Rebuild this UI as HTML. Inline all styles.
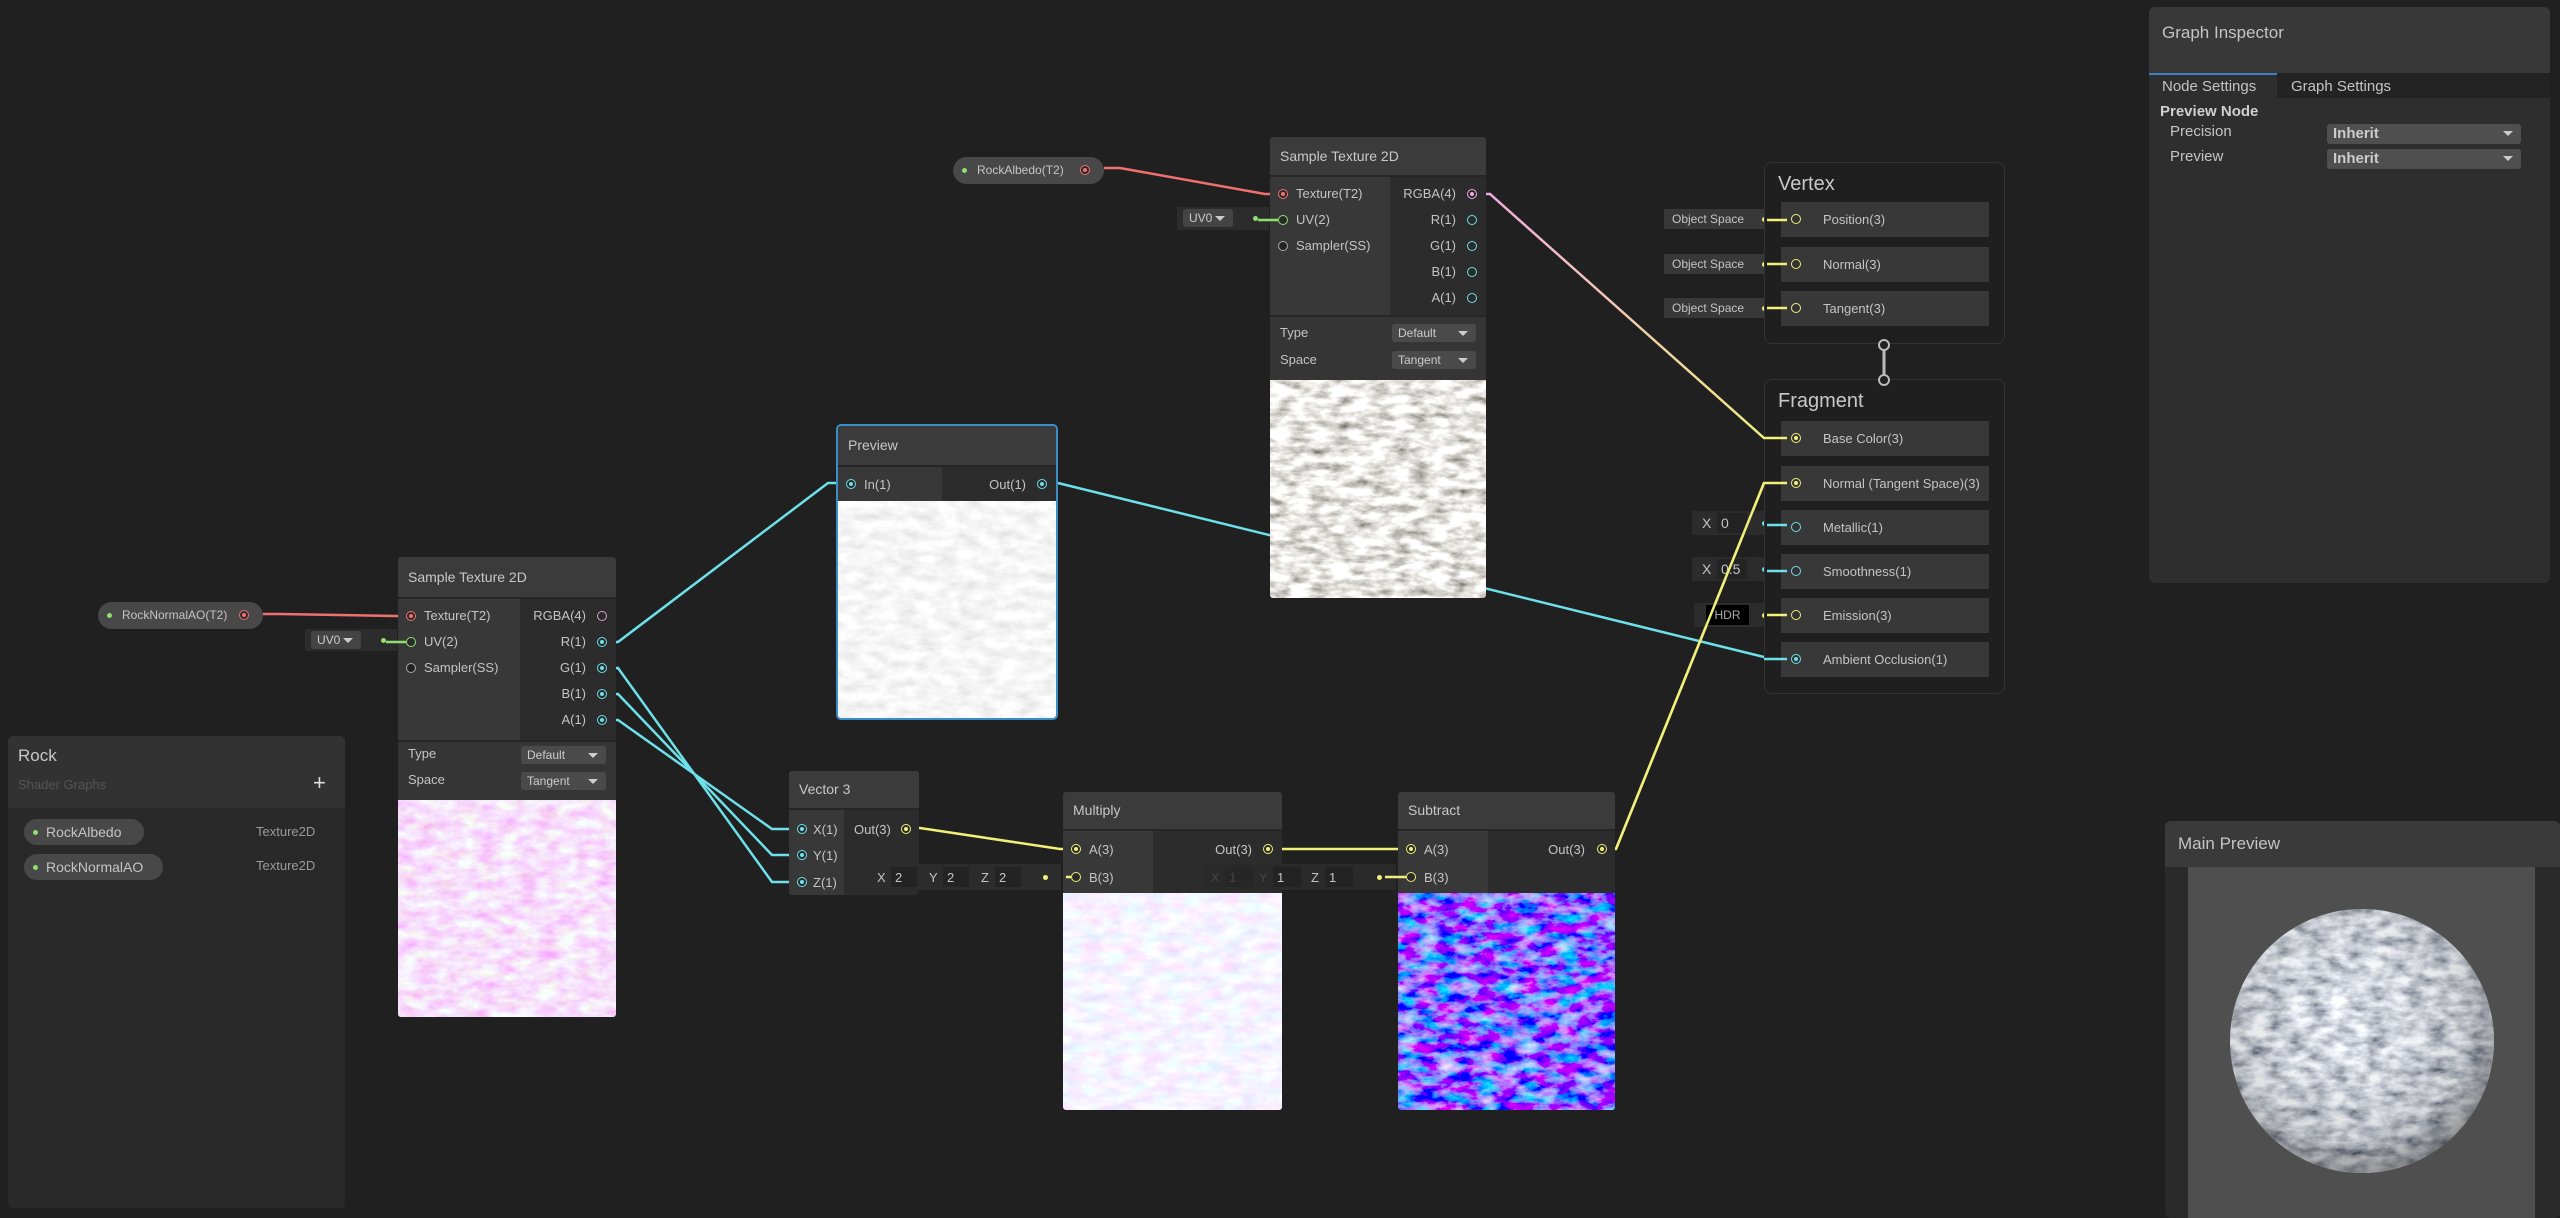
<!DOCTYPE html>
<html><head><meta charset="utf-8">
<style>
*{box-sizing:border-box;margin:0;padding:0}
body{width:2560px;height:1218px;background:#202020;position:relative;overflow:hidden;font-family:"Liberation Sans",sans-serif;color:#c4c4c4}
.a{position:absolute}
.node{position:absolute;background:#2c2c2c;border-radius:3px;overflow:hidden}
.hdr{position:absolute;left:0;right:0;top:0;background:#3b3b3b;font-size:14px;color:#c8c8c8;padding-left:10px;border-bottom:2px solid #262626}
.lbl{position:absolute;font-size:13px;color:#c4c4c4;white-space:nowrap;line-height:16px}
.port{position:absolute;width:10px;height:10px;border-radius:50%;border:1.6px solid #888;background:#2a2a2a}
.port.f::after{content:"";position:absolute;left:1.5px;top:1.5px;width:4px;height:4px;border-radius:50%;background:currentColor}
.dd{position:absolute;background:#4a4a4a;border-radius:3px;font-size:12px;color:#ccc;padding-left:6px;line-height:18px}
.dd::after{content:"";position:absolute;right:8px;top:7px;border-left:5px solid transparent;border-right:5px solid transparent;border-top:5px solid #ccc}
.pill{position:absolute;background:#484848;border-radius:14px;font-size:12px;color:#c4c4c4;line-height:26px}
.row{position:absolute;left:16px;width:208px;height:35px;background:#383838}
.row span{position:absolute;left:42px;top:10px;font-size:13px;color:#c4c4c4}
.os{position:absolute;height:20px;background:#383838;font-size:12px;color:#c4c4c4;line-height:20px;padding-left:8px}
svg.tex{position:absolute;display:block}
</style></head><body>

<svg width="0" height="0" style="position:absolute">
<defs>
<filter id="fg" x="0" y="0" width="100%" height="100%"><feTurbulence type="fractalNoise" baseFrequency="0.05 0.12" numOctaves="4" seed="3"/><feColorMatrix type="matrix" values="1.6 0 0 0 0.02  1.6 0 0 0 0.0  1.6 0 0 0 -0.03  0 0 0 0 1"/></filter>
<filter id="fw" x="0" y="0" width="100%" height="100%"><feTurbulence type="fractalNoise" baseFrequency="0.05 0.1" numOctaves="4" seed="5"/><feColorMatrix type="matrix" values="0.4 0 0 0 0.72  0.4 0 0 0 0.72  0.4 0 0 0 0.72  0 0 0 0 1"/></filter>
<filter id="fp" x="0" y="0" width="100%" height="100%"><feTurbulence type="fractalNoise" baseFrequency="0.05 0.1" numOctaves="4" seed="7"/><feColorMatrix type="matrix" values="0 0 0 0 0.93  0 0.9 0 0 0.3  0 0 0.3 0 0.82  0 0 0 0 1"/></filter>
<filter id="fm" x="0" y="0" width="100%" height="100%"><feTurbulence type="fractalNoise" baseFrequency="0.05 0.1" numOctaves="4" seed="9"/><feColorMatrix type="matrix" values="0.4 0 0 0 0.72  0 0.5 0 0 0.65  0 0 0 0 1  0 0 0 0 1"/></filter>
<filter id="fb" x="0" y="0" width="100%" height="100%"><feTurbulence type="fractalNoise" baseFrequency="0.05 0.1" numOctaves="4" seed="11"/><feColorMatrix type="matrix" values="1.6 0 0 0 -0.55  0 1.8 0 0 -0.75  0 0 0 0 1  0 0 0 0 1"/></filter>
<filter id="fs" x="0" y="0" width="100%" height="100%"><feTurbulence type="fractalNoise" baseFrequency="0.05 0.1" numOctaves="4" seed="13"/><feColorMatrix type="matrix" values="1.4 0 0 0 -0.05  1.4 0 0 0 -0.02  1.4 0 0 0 0.04  0 0 0 0 1"/></filter>
<radialGradient id="sg" cx="0.45" cy="0.4" r="0.6"><stop offset="0" stop-color="#fff" stop-opacity="0"/><stop offset="0.8" stop-color="#000" stop-opacity="0.15"/><stop offset="1" stop-color="#000" stop-opacity="0.4"/></radialGradient>
</defs></svg>

<!-- connectors -->
<svg class="a" style="left:0;top:0;z-index:1" width="2560" height="1218">
<defs><linearGradient id="pg" x1="1473" y1="194" x2="1791" y2="438" gradientUnits="userSpaceOnUse"><stop offset="0" stop-color="#f0a8e0"/><stop offset="1" stop-color="#f0f07a"/></linearGradient></defs>
<g fill="none" stroke-width="2.5">
<polyline stroke="#f07070" points="263,614 280,614 395,616 411,616"/>
<polyline stroke="#f07070" points="1104,168 1120,168 1265,194 1283,194"/>
<polyline stroke="#6ee0ea" points="602,642 618,642 828,483 849,483"/>
<polyline stroke="#6ee0ea" points="1042,483 1058,483 1772,659 1791,659"/>
<polyline stroke="#6ee0ea" points="602,668 618,668 772,882 801,882"/>
<polyline stroke="#6ee0ea" points="602,694 618,694 772,855 801,855"/>
<polyline stroke="#6ee0ea" points="602,720 618,720 772,829 801,829"/>
<polyline stroke="#f0f07a" points="906,828 920,828 1060,849 1076,849"/>
<polyline stroke="#f0f07a" points="1269,849 1411,849"/>
<polyline stroke="#f0f07a" points="1602,849 1616,849 1764,483 1791,483"/>
<polyline stroke="url(#pg)" points="1473,194 1490,194 1764,438 1791,438"/>
</g>
</svg>

<div style="position:relative;z-index:2">

<!-- Graph Inspector -->
<div class="a" style="left:2149px;top:7px;width:401px;height:576px;background:#2e2e2e;border-radius:6px;overflow:hidden">
 <div class="a" style="left:0;top:0;width:401px;height:66px;background:#383838"></div>
 <div class="a" style="left:13px;top:16px;font-size:17px;color:#c4c4c4">Graph Inspector</div>
 <div class="a" style="left:0;top:66px;width:401px;height:25px;background:#232323"></div>
 <div class="a" style="left:0;top:66px;width:128px;height:25px;background:#2e2e2e;border-top:2px solid #3f7fc6"></div>
 <div class="a" style="left:13px;top:71px;font-size:15px;color:#c4c4c4">Node Settings</div>
 <div class="a" style="left:142px;top:71px;font-size:15px;color:#c4c4c4">Graph Settings</div>
 <div class="a" style="left:11px;top:96px;font-size:15px;font-weight:bold;color:#d0d0d0">Preview Node</div>
 <div class="a" style="left:21px;top:116px;font-size:15px;color:#c4c4c4">Precision</div>
 <div class="a" style="left:21px;top:141px;font-size:15px;color:#c4c4c4">Preview</div>
 <div class="dd" style="left:178px;top:117px;width:194px;height:20px;font-size:15px;font-weight:bold;line-height:20px;background:#4f4f4f">Inherit</div>
 <div class="dd" style="left:178px;top:142px;width:194px;height:20px;font-size:15px;font-weight:bold;line-height:20px;background:#4f4f4f">Inherit</div>
</div>

<!-- Main Preview -->
<div class="a" style="left:2165px;top:821px;width:395px;height:397px;background:#2a2a2a;border-radius:6px;overflow:hidden">
 <div class="a" style="left:0;top:0;width:395px;height:46px;background:#3a3a3a"></div>
 <div class="a" style="left:13px;top:13px;font-size:17px;color:#c4c4c4">Main Preview</div>
 <div class="a" style="left:23px;top:46px;width:347px;height:351px;background:#4f4f4f"></div>
 <svg class="a" style="left:23px;top:46px" width="347" height="351">
  <clipPath id="cc"><circle cx="174" cy="174" r="132"/></clipPath>
  <g clip-path="url(#cc)"><rect width="347" height="351" filter="url(#fs)"/><circle cx="174" cy="174" r="132" fill="url(#sg)"/></g>
 </svg>
</div>

<!-- Blackboard -->
<div class="a" style="left:8px;top:736px;width:337px;height:472px;background:#292929;border-radius:5px;overflow:hidden">
 <div class="a" style="left:0;top:0;width:337px;height:72px;background:#323232"></div>
 <div class="a" style="left:10px;top:10px;font-size:17px;color:#c8c8c8">Rock</div>
 <div class="a" style="left:10px;top:41px;font-size:13px;color:#555">Shader Graphs</div>
 <div class="a" style="left:305px;top:34px;font-size:22px;color:#ddd">+</div>
 <div class="pill" style="left:16px;top:83px;width:120px;height:26px;font-size:14px;padding-left:22px"><span class="a" style="left:9px;top:11px;width:5px;height:5px;border-radius:50%;background:#8ee070"></span>RockAlbedo</div>
 <div class="pill" style="left:16px;top:118px;width:139px;height:26px;font-size:14px;padding-left:22px"><span class="a" style="left:9px;top:11px;width:5px;height:5px;border-radius:50%;background:#8ee070"></span>RockNormalAO</div>
 <div class="a" style="left:248px;top:88px;font-size:13px;color:#9a9a9a">Texture2D</div>
 <div class="a" style="left:248px;top:122px;font-size:13px;color:#9a9a9a">Texture2D</div>
</div>

<!-- property pills -->
<div class="pill" style="left:98px;top:602px;width:165px;height:27px;padding-left:24px">RockNormalAO(T2)<span class="a" style="left:9px;top:11px;width:5px;height:5px;border-radius:50%;background:#8ee070"></span><span class="port f" style="left:141px;top:8px;color:#f07070;border-color:#f07070"></span></div>
<div class="pill" style="left:953px;top:157px;width:151px;height:27px;padding-left:24px">RockAlbedo(T2)<span class="a" style="left:9px;top:11px;width:5px;height:5px;border-radius:50%;background:#8ee070"></span><span class="port f" style="left:127px;top:8px;color:#f07070;border-color:#f07070"></span></div>

<!-- UV0 boxes -->
<div class="a" style="left:305px;top:629px;width:92px;height:22px;background:#2c2c2c"><div class="dd" style="left:6px;top:2px;width:50px;height:18px;background:#444">UV0</div><span class="a" style="left:76px;top:9px;width:5px;height:5px;border-radius:50%;background:#8ee070"></span></div>
<div class="a" style="left:1177px;top:207px;width:92px;height:23px;background:#2c2c2c"><div class="dd" style="left:6px;top:2px;width:50px;height:18px;background:#444">UV0</div><span class="a" style="left:76px;top:9px;width:5px;height:5px;border-radius:50%;background:#8ee070"></span></div>

<!-- Sample Texture 2D (left) -->
<div class="node" style="left:398px;top:557px;width:218px;height:460px">
 <div class="hdr" style="height:42px;line-height:40px">Sample Texture 2D</div>
 <div class="a" style="left:0;top:42px;width:122px;height:141px;background:#383838"></div>
 <div class="a" style="left:122px;top:42px;width:96px;height:141px;background:#2c2c2c"></div>
 <span class="port f" style="left:8px;top:54px;color:#f07070;border-color:#f07070"></span><div class="lbl" style="left:26px;top:51px">Texture(T2)</div>
 <span class="port" style="left:8px;top:80px;border-color:#8ee070"></span><div class="lbl" style="left:26px;top:77px">UV(2)</div>
 <span class="port" style="left:8px;top:106px;border-color:#aaa;background:#222"></span><div class="lbl" style="left:26px;top:103px">Sampler(SS)</div>
 <div class="lbl" style="right:30px;top:51px">RGBA(4)</div><span class="port" style="left:199px;top:54px;border-color:#d9a0d0"></span>
 <div class="lbl" style="right:30px;top:77px">R(1)</div><span class="port f" style="left:199px;top:80px;color:#6ee0ea;border-color:#6ee0ea"></span>
 <div class="lbl" style="right:30px;top:103px">G(1)</div><span class="port f" style="left:199px;top:106px;color:#6ee0ea;border-color:#6ee0ea"></span>
 <div class="lbl" style="right:30px;top:129px">B(1)</div><span class="port f" style="left:199px;top:132px;color:#6ee0ea;border-color:#6ee0ea"></span>
 <div class="lbl" style="right:30px;top:155px">A(1)</div><span class="port f" style="left:199px;top:158px;color:#6ee0ea;border-color:#6ee0ea"></span>
 <div class="a" style="left:0;top:183px;width:218px;height:60px;background:#353535;border-top:2px solid #262626"></div>
 <div class="lbl" style="left:10px;top:189px">Type</div><div class="dd" style="left:123px;top:189px;width:85px;height:18px">Default</div>
 <div class="lbl" style="left:10px;top:215px">Space</div><div class="dd" style="left:123px;top:215px;width:85px;height:18px">Tangent</div>
 <svg class="tex" style="left:0;top:243px" width="218" height="217"><rect width="218" height="217" filter="url(#fp)"/></svg>
</div>

<!-- Sample Texture 2D (top) -->
<div class="node" style="left:1270px;top:137px;width:216px;height:461px">
 <div class="hdr" style="height:40px;line-height:38px">Sample Texture 2D</div>
 <div class="a" style="left:0;top:40px;width:120px;height:138px;background:#383838"></div>
 <div class="a" style="left:120px;top:40px;width:96px;height:138px;background:#2c2c2c"></div>
 <span class="port f" style="left:8px;top:52px;color:#f07070;border-color:#f07070"></span><div class="lbl" style="left:26px;top:49px">Texture(T2)</div>
 <span class="port" style="left:8px;top:78px;border-color:#8ee070"></span><div class="lbl" style="left:26px;top:75px">UV(2)</div>
 <span class="port" style="left:8px;top:104px;border-color:#aaa;background:#222"></span><div class="lbl" style="left:26px;top:101px">Sampler(SS)</div>
 <div class="lbl" style="right:30px;top:49px">RGBA(4)</div><span class="port f" style="left:197px;top:52px;color:#f0a8e0;border-color:#f0a8e0"></span>
 <div class="lbl" style="right:30px;top:75px">R(1)</div><span class="port" style="left:197px;top:78px;border-color:#6ee0ea"></span>
 <div class="lbl" style="right:30px;top:101px">G(1)</div><span class="port" style="left:197px;top:104px;border-color:#6ee0ea"></span>
 <div class="lbl" style="right:30px;top:127px">B(1)</div><span class="port" style="left:197px;top:130px;border-color:#6ee0ea"></span>
 <div class="lbl" style="right:30px;top:153px">A(1)</div><span class="port" style="left:197px;top:156px;border-color:#6ee0ea"></span>
 <div class="a" style="left:0;top:178px;width:216px;height:65px;background:#353535;border-top:2px solid #262626"></div>
 <div class="lbl" style="left:10px;top:188px">Type</div><div class="dd" style="left:122px;top:187px;width:84px;height:18px">Default</div>
 <div class="lbl" style="left:10px;top:215px">Space</div><div class="dd" style="left:122px;top:214px;width:84px;height:18px">Tangent</div>
 <svg class="tex" style="left:0;top:243px" width="216" height="218"><rect width="216" height="218" filter="url(#fg)"/></svg>
</div>

<!-- Preview node -->
<div class="node" style="left:836px;top:424px;width:222px;height:296px;border:2px solid #3a8ec8;border-radius:5px">
 <div class="hdr" style="height:41px;line-height:39px">Preview</div>
 <div class="a" style="left:0;top:41px;width:104px;height:34px;background:#383838"></div>
 <span class="port f" style="left:8px;top:53px;color:#6ee0ea;border-color:#6ee0ea"></span><div class="lbl" style="left:26px;top:51px">In(1)</div>
 <div class="lbl" style="right:30px;top:51px">Out(1)</div><span class="port f" style="left:199px;top:53px;color:#6ee0ea;border-color:#6ee0ea"></span>
 <svg class="tex" style="left:0;top:75px" width="218" height="217"><rect width="218" height="217" filter="url(#fw)"/></svg>
</div>

<!-- Vector 3 -->
<div class="node" style="left:789px;top:771px;width:130px;height:124px">
 <div class="hdr" style="height:39px;line-height:37px">Vector 3</div>
 <div class="a" style="left:0;top:39px;width:55px;height:85px;background:#383838"></div>
 <span class="port f" style="left:8px;top:53px;color:#6ee0ea;border-color:#6ee0ea"></span><div class="lbl" style="left:24px;top:51px">X(1)</div>
 <span class="port f" style="left:8px;top:79px;color:#6ee0ea;border-color:#6ee0ea"></span><div class="lbl" style="left:24px;top:77px">Y(1)</div>
 <span class="port f" style="left:8px;top:106px;color:#6ee0ea;border-color:#6ee0ea"></span><div class="lbl" style="left:24px;top:104px">Z(1)</div>
 <div class="lbl" style="left:65px;top:51px">Out(3)</div><span class="port f" style="left:112px;top:53px;color:#f0f07a;border-color:#f0f07a"></span>
</div>

<!-- XYZ 2 field -->
<div class="a" style="left:869px;top:864px;width:192px;height:26px;background:#2c2c2c;font-size:13px;color:#c4c4c4">
 <span class="a" style="left:8px;top:6px">X</span><span class="a" style="left:22px;top:3px;width:26px;height:20px;background:#232323;padding:3px 4px">2</span>
 <span class="a" style="left:60px;top:6px">Y</span><span class="a" style="left:74px;top:3px;width:26px;height:20px;background:#232323;padding:3px 4px">2</span>
 <span class="a" style="left:112px;top:6px">Z</span><span class="a" style="left:126px;top:3px;width:26px;height:20px;background:#232323;padding:3px 4px">2</span>
 <span class="a" style="left:174px;top:11px;width:5px;height:5px;border-radius:50%;background:#f0f07a"></span>
</div>

<!-- Multiply -->
<div class="node" style="left:1063px;top:792px;width:219px;height:318px">
 <div class="hdr" style="height:39px;line-height:37px">Multiply</div>
 <div class="a" style="left:0;top:39px;width:90px;height:62px;background:#383838"></div>
 <span class="port f" style="left:8px;top:52px;color:#f0f07a;border-color:#f0f07a"></span><div class="lbl" style="left:26px;top:50px">A(3)</div>
 <span class="port" style="left:8px;top:80px;border-color:#f0f07a"></span><div class="lbl" style="left:26px;top:78px">B(3)</div>
 <div class="lbl" style="right:30px;top:50px">Out(3)</div><span class="port f" style="left:200px;top:52px;color:#f0f07a;border-color:#f0f07a"></span>
 <svg class="tex" style="left:0;top:101px" width="219" height="217"><rect width="219" height="217" filter="url(#fm)"/></svg>
</div>

<!-- XYZ 1 field -->
<div class="a" style="left:1203px;top:864px;width:193px;height:26px;background:#2a2a2a;font-size:13px;color:#c4c4c4">
 <span class="a" style="left:8px;top:6px;color:#444">X</span><span class="a" style="left:22px;top:3px;width:28px;height:20px;background:#262626;padding:3px 4px;color:#444">1</span>
 <span class="a" style="left:56px;top:6px;color:#444">Y</span><span class="a" style="left:70px;top:3px;width:28px;height:20px;background:#232323;padding:3px 4px">1</span>
 <span class="a" style="left:108px;top:6px">Z</span><span class="a" style="left:122px;top:3px;width:28px;height:20px;background:#232323;padding:3px 4px">1</span>
 <span class="a" style="left:174px;top:11px;width:5px;height:5px;border-radius:50%;background:#f0f07a"></span>
</div>

<!-- Subtract -->
<div class="node" style="left:1398px;top:792px;width:217px;height:318px">
 <div class="hdr" style="height:39px;line-height:37px">Subtract</div>
 <div class="a" style="left:0;top:39px;width:90px;height:62px;background:#383838"></div>
 <span class="port f" style="left:8px;top:52px;color:#f0f07a;border-color:#f0f07a"></span><div class="lbl" style="left:26px;top:50px">A(3)</div>
 <span class="port" style="left:8px;top:80px;border-color:#f0f07a"></span><div class="lbl" style="left:26px;top:78px">B(3)</div>
 <div class="lbl" style="right:30px;top:50px">Out(3)</div><span class="port f" style="left:199px;top:52px;color:#f0f07a;border-color:#f0f07a"></span>
 <svg class="tex" style="left:0;top:101px" width="217" height="217"><rect width="217" height="217" filter="url(#fb)"/></svg>
</div>

<!-- Object Space fields -->
<div class="os" style="left:1664px;top:209px;width:111px">Object Space<span class="a" style="left:98px;top:8px;width:5px;height:5px;border-radius:50%;background:#f0f07a"></span></div>
<div class="os" style="left:1664px;top:254px;width:111px">Object Space<span class="a" style="left:98px;top:8px;width:5px;height:5px;border-radius:50%;background:#f0f07a"></span></div>
<div class="os" style="left:1664px;top:298px;width:111px">Object Space<span class="a" style="left:98px;top:8px;width:5px;height:5px;border-radius:50%;background:#f0f07a"></span></div>

<!-- Vertex -->
<div class="a" style="left:1764px;top:162px;width:241px;height:182px;border:1px solid #333;border-radius:8px;background:#1f1f1f">
 <div class="a" style="left:13px;top:10px;font-size:20px;color:#c8c8c8">Vertex</div>
 <div class="row" style="top:39px"><span class="port" style="left:10px;top:12px;border-color:#f0f07a;background:#333"></span><span>Position(3)</span></div>
 <div class="row" style="top:84px"><span class="port" style="left:10px;top:12px;border-color:#f0f07a;background:#333"></span><span>Normal(3)</span></div>
 <div class="row" style="top:128px"><span class="port" style="left:10px;top:12px;border-color:#f0f07a;background:#333"></span><span>Tangent(3)</span></div>
</div>

<!-- Fragment fields -->
<div class="a" style="left:1692px;top:511px;width:83px;height:24px;background:#2c2c2c;font-size:14px;color:#c4c4c4"><span class="a" style="left:10px;top:4px">X</span><span class="a" style="left:25px;top:2px;width:30px;height:20px;background:#232323;padding:2px 4px">0</span><span class="a" style="left:70px;top:10px;width:5px;height:5px;border-radius:50%;background:#6ee0ea"></span></div>
<div class="a" style="left:1692px;top:557px;width:83px;height:24px;background:#2c2c2c;font-size:14px;color:#c4c4c4"><span class="a" style="left:10px;top:4px">X</span><span class="a" style="left:25px;top:2px;width:30px;height:20px;background:#232323;padding:2px 4px">0.5</span><span class="a" style="left:70px;top:10px;width:5px;height:5px;border-radius:50%;background:#6ee0ea"></span></div>
<div class="a" style="left:1694px;top:603px;width:81px;height:24px;background:#2c2c2c;font-size:12px;color:#aaa"><span class="a" style="left:12px;top:2px;width:43px;height:20px;background:#000;text-align:center;line-height:20px">HDR</span><span class="a" style="left:68px;top:10px;width:5px;height:5px;border-radius:50%;background:#f0f07a"></span></div>

<!-- Fragment -->
<div class="a" style="left:1764px;top:379px;width:241px;height:315px;border:1px solid #333;border-radius:8px;background:#1f1f1f">
 <div class="a" style="left:13px;top:10px;font-size:20px;color:#c8c8c8">Fragment</div>
 <div class="row" style="top:41px"><span class="port f" style="left:10px;top:12px;color:#f0f07a;border-color:#f0f07a;background:#333"></span><span>Base Color(3)</span></div>
 <div class="row" style="top:86px"><span class="port f" style="left:10px;top:12px;color:#f0f07a;border-color:#f0f07a;background:#333"></span><span>Normal (Tangent Space)(3)</span></div>
 <div class="row" style="top:130px"><span class="port" style="left:10px;top:12px;border-color:#6ee0ea;background:#333"></span><span>Metallic(1)</span></div>
 <div class="row" style="top:174px"><span class="port" style="left:10px;top:12px;border-color:#6ee0ea;background:#333"></span><span>Smoothness(1)</span></div>
 <div class="row" style="top:218px"><span class="port" style="left:10px;top:12px;border-color:#f0f07a;background:#333"></span><span>Emission(3)</span></div>
 <div class="row" style="top:262px"><span class="port f" style="left:10px;top:12px;color:#6ee0ea;border-color:#6ee0ea;background:#333"></span><span>Ambient Occlusion(1)</span></div>
</div>

</div>
<!-- overlay lines/stubs -->
<svg class="a" style="left:0;top:0;z-index:3;pointer-events:none" width="2560" height="1218">
<g fill="none" stroke-width="2.5">
<line x1="1616" y1="849" x2="1764" y2="483" stroke="#f0f07a"/>
<line x1="1764" y1="438" x2="1787" y2="438" stroke="#f0f07a"/>
<line x1="1764" y1="483" x2="1787" y2="483" stroke="#f0f07a"/>
<line x1="1764" y1="659" x2="1787" y2="659" stroke="#6ee0ea"/>
<line x1="386" y1="642" x2="406" y2="642" stroke="#8ee070"/>
<line x1="1258" y1="220" x2="1278" y2="220" stroke="#8ee070"/>
<line x1="1066" y1="877" x2="1071" y2="877" stroke="#f0f07a"/>
<line x1="1385" y1="877" x2="1406" y2="877" stroke="#f0f07a"/>
<line x1="1767" y1="220" x2="1787" y2="220" stroke="#f0f07a"/>
<line x1="1767" y1="264" x2="1787" y2="264" stroke="#f0f07a"/>
<line x1="1767" y1="308" x2="1787" y2="308" stroke="#f0f07a"/>
<line x1="1767" y1="525" x2="1787" y2="525" stroke="#6ee0ea"/>
<line x1="1767" y1="571" x2="1787" y2="571" stroke="#6ee0ea"/>
<line x1="1767" y1="615" x2="1787" y2="615" stroke="#f0f07a"/>
<line x1="1884" y1="345" x2="1884" y2="380" stroke="#bbb" stroke-width="3"/>
<circle cx="1884" cy="345" r="5" fill="#202020" stroke="#bbb" stroke-width="2"/>
<circle cx="1884" cy="380" r="5" fill="#202020" stroke="#bbb" stroke-width="2"/>
</g>
</svg>
</body></html>
